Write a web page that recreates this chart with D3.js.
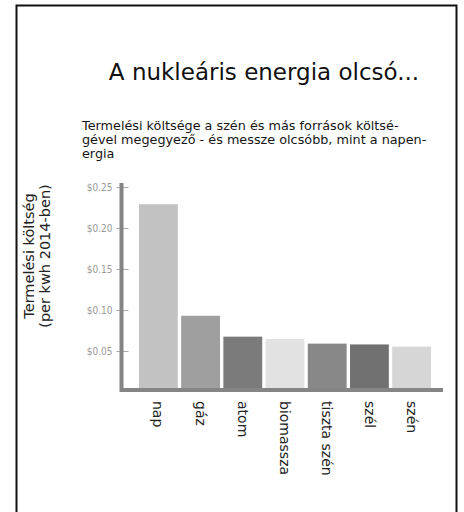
<!DOCTYPE html>
<html>
<head>
<meta charset="utf-8">
<script src="https://cdn.jsdelivr.net/npm/d3@7"></script>
<style>
  body { margin: 0; background: #fff; }
</style>
</head>
<body>
<div id="container"></div>
<script>
let categories = ['nap', 'gáz', 'atom', 'biomassza', 'tiszta szén', 'szél', 'szén'];
let costs = [0.229, 0.093, 0.0675, 0.0646, 0.059, 0.058, 0.0553];
let barColors = ['#c2c2c2', '#9f9f9f', '#7b7b7b', '#e2e2e2', '#888888', '#717171', '#d6d6d6'];
let tickValues = [0.05, 0.10, 0.15, 0.20, 0.25];
let title = 'A nukleáris energia olcsó...';
let subtitle = ['Termelési költsége a szén és más források költsé-',
    'gével megegyező - és messze olcsóbb, mint a napen-',
    'ergia'];
let yTitle = ['Termelési költség', '(per kwh 2014-ben)'];

let viz = d3.select('#container')
    .append('svg')
    .attr('width', 464)
    .attr('height', 512)
    ;

// frame
viz.append('rect')
    .attr('x', 16.5)
    .attr('y', 5.5)
    .attr('width', 440)
    .attr('height', 520)
    .attr('fill', 'white')
    .attr('stroke', '#111')
    .attr('stroke-width', 2);

viz.append('text')
    .attr('x', 264)
    .attr('y', 80)
    .attr('text-anchor', 'middle')
    .attr('font-family', 'DejaVu Sans, Verdana, sans-serif')
    .attr('font-size', 23)
    .attr('fill', '#111')
    .text(title);

viz.append('g').selectAll('text').data(subtitle).enter()
    .append('text')
    .attr('x', 82)
    .attr('y', (d, i) => 130 + i * 13.8)
    .attr('font-family', 'DejaVu Sans, Verdana, sans-serif')
    .attr('font-size', 12.8)
    .attr('fill', '#151515')
    .text(d => d);

let y = d3.scaleLinear().domain([0, 0.25]).range([392, 187]);
let x = d3.scaleBand().domain(categories).range([136, 434])
    .paddingInner(0.08).paddingOuter(0.07);

let data = categories.map((c, i) => ({ name: c, value: costs[i], color: barColors[i] }));

viz.append('g').selectAll('rect').data(data).enter()
    .append('rect')
    .attr('x', d => x(d.name))
    .attr('y', d => y(d.value))
    .attr('width', x.bandwidth())
    .attr('height', d => y(0) - y(d.value))
    .attr('fill', d => d.color);

// y axis
let yAxis = viz.append('g')
    .attr('transform', 'translate(121.5,0)')
    .call(d3.axisRight(y).tickValues(tickValues).tickSize(7).tickFormat(d => '$' + d3.format('.2f')(d)));
yAxis.select('.domain').remove();
yAxis.selectAll('.tick line').attr('stroke', '#aaa').attr('x1', -5);
yAxis.selectAll('.tick text')
    .attr('x', -9)
    .attr('text-anchor', 'end')
    .attr('font-family', 'DejaVu Sans Condensed, DejaVu Sans, sans-serif')
    .attr('font-size', 10)
    .attr('fill', '#999');

viz.append('line')
    .attr('x1', 121.5).attr('x2', 121.5)
    .attr('y1', 183).attr('y2', 392)
    .attr('stroke', '#858585')
    .attr('stroke-width', 4);

viz.append('line')
    .attr('x1', 120).attr('x2', 443)
    .attr('y1', 390).attr('y2', 390)
    .attr('stroke', '#858585')
    .attr('stroke-width', 4);

// x labels
viz.append('g').selectAll('text').data(categories).enter()
    .append('text')
    .attr('transform', d => 'translate(' + (x(d) + x.bandwidth() / 2) + ',401) rotate(90)')
    .attr('dy', '0.35em')
    .attr('font-family', 'DejaVu Sans, Verdana, sans-serif')
    .attr('font-size', 14)
    .attr('fill', '#222')
    .text(d => d);

// y title
viz.append('g').selectAll('text').data(yTitle).enter()
    .append('text')
    .attr('transform', (d, i) => 'translate(' + (34 + i * 16) + ',256) rotate(-90)')
    .attr('text-anchor', 'middle')
    .attr('font-family', 'DejaVu Sans, Verdana, sans-serif')
    .attr('font-size', 14.5)
    .attr('fill', '#222')
    .text(d => d);
</script>
</body>
</html>
